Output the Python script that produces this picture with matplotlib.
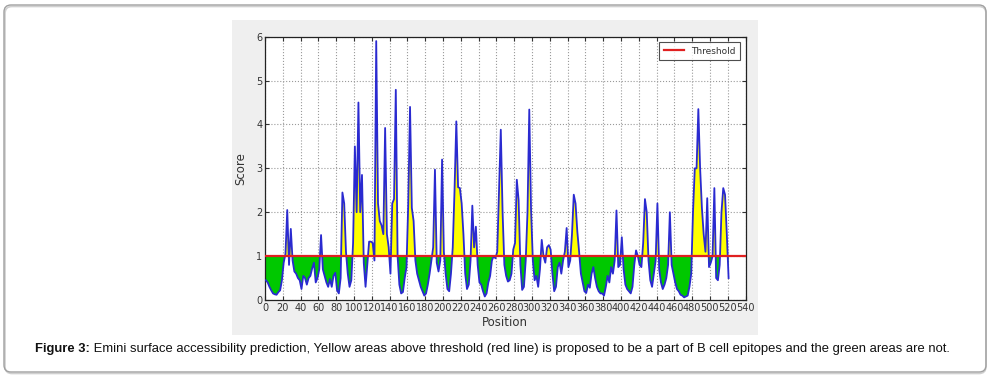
import numpy as np
import matplotlib
matplotlib.use("Agg")
import matplotlib.pyplot as plt
from matplotlib.patches import FancyBboxPatch, Rectangle
from matplotlib.transforms import IdentityTransform

# ---- data ----
positions = list(range(1, 522, 2))
scores = [
    0.45, 0.40, 0.30, 0.22, 0.15, 0.13, 0.12, 0.18, 0.22, 0.45,   # 1-19
    0.85, 1.05, 2.05, 0.80, 1.62, 0.90, 0.65, 0.60, 0.50, 0.45,   # 21-39
    0.25, 0.55, 0.50, 0.35, 0.50, 0.55, 0.72, 0.85, 0.40, 0.50,   # 41-59
    0.70, 1.48, 0.70, 0.55, 0.40, 0.30, 0.48, 0.30, 0.55, 0.62,   # 61-79
    0.22, 0.15, 0.50, 2.45, 2.20, 1.10, 0.60, 0.30, 0.45, 1.30,   # 81-99
    3.50, 2.00, 4.50, 2.00, 2.85, 0.85, 0.30, 0.80, 1.33, 1.33,   # 101-119
    1.30, 0.90, 5.90, 2.20, 1.80, 1.70, 1.50, 3.92, 1.50, 1.20,   # 121-139
    0.60, 2.20, 2.30, 4.79, 1.00, 0.35, 0.15, 0.18, 0.50, 0.75,   # 141-159
    2.20, 4.40, 2.10, 1.80, 0.90, 0.60, 0.45, 0.30, 0.20, 0.10,   # 161-179
    0.15, 0.35, 0.60, 0.90, 1.20, 2.97, 0.85, 0.65, 0.90, 3.20,   # 181-199
    1.10, 0.60, 0.25, 0.20, 0.60, 1.20, 2.50, 4.07, 2.57, 2.55,   # 201-219
    2.20, 1.50, 0.60, 0.25, 0.35, 0.90, 2.15, 1.20, 1.67, 0.80,   # 221-239
    0.40, 0.35, 0.20, 0.08, 0.15, 0.40, 0.55, 0.90, 1.00, 0.95,   # 241-259
    1.10, 2.50, 3.88, 2.00, 0.80, 0.55, 0.42, 0.45, 0.60, 1.15,   # 261-279
    1.30, 2.74, 2.28, 0.80, 0.23, 0.30, 0.90, 2.00, 4.34, 2.05,   # 281-299
    0.90, 0.45, 0.55, 0.30, 0.70, 1.37, 1.00, 0.85, 1.20, 1.25,   # 301-319
    1.15, 0.60, 0.20, 0.30, 0.75, 0.85, 0.60, 0.90, 1.10, 1.64,   # 321-339
    0.75, 0.90, 1.50, 2.40, 2.20, 1.56, 1.10, 0.60, 0.40, 0.20,   # 341-359
    0.16, 0.35, 0.28, 0.60, 0.75, 0.50, 0.30, 0.20, 0.15, 0.15,   # 361-379
    0.10, 0.30, 0.55, 0.40, 0.75, 0.60, 0.90, 2.04, 0.75, 0.80,   # 381-399
    1.43, 0.70, 0.35, 0.25, 0.20, 0.15, 0.30, 0.80, 1.13, 1.00,   # 401-419
    0.80, 0.75, 1.30, 2.30, 2.00, 0.90, 0.45, 0.30, 0.60, 0.90,   # 421-439
    2.20, 0.70, 0.40, 0.25, 0.35, 0.50, 0.80, 2.00, 0.80, 0.60,   # 441-459
    0.40, 0.25, 0.20, 0.12, 0.10, 0.06, 0.08, 0.10, 0.30, 0.60,   # 461-479
    2.00, 3.00, 3.00, 4.35, 3.00, 2.10, 1.50, 1.10, 2.32, 0.75,   # 481-499
    0.85, 1.00, 2.55, 0.50, 0.45, 0.80, 2.00, 2.55, 2.40, 1.50,   # 501-519
    0.50,                                                         # 521
]
threshold = 1.0
x_ticks = list(range(0, 541, 20))
y_ticks = list(range(0, 7))
caption_bold = "Figure 3:"
caption_rest = (" Emini surface accessibility prediction, Yellow areas above threshold (red line) "
                "is proposed to be a part of B cell epitopes and the green areas are not.")

x = np.array(positions, dtype=float)
y = np.array(scores, dtype=float)

fig = plt.figure(figsize=(9.91, 3.82), dpi=100)
fig.patch.set_facecolor("white")

# outer rounded border (pixel coordinates)
shadow = FancyBboxPatch((5, 8.5), 981, 367, boxstyle="round,pad=0,rounding_size=7",
                        transform=IdentityTransform(), facecolor="none",
                        edgecolor="#d0d0d0", linewidth=1.2, zorder=-20)
fig.patches.append(shadow)
border = FancyBboxPatch((4, 10), 982, 367, boxstyle="round,pad=0,rounding_size=7",
                        transform=IdentityTransform(), facecolor="none",
                        edgecolor="#a0a0a0", linewidth=1.0, zorder=-19)
fig.patches.append(border)

# grey image panel
panel = Rectangle((232 / 991, 1 - 335 / 382), (758 - 232) / 991, (335 - 20) / 382,
                  transform=fig.transFigure, facecolor="#efefef", edgecolor="none", zorder=-10)
fig.patches.append(panel)

ax = fig.add_axes([265 / 991, 1 - 300 / 382, (745.5 - 265) / 991, (300 - 36.7) / 382])
ax.set_zorder(5)
ax.set_facecolor("white")

ax.fill_between(x, y, threshold, where=y >= threshold, interpolate=True,
                facecolor="#ffff00", edgecolor="none", zorder=2)
ax.fill_between(x, y, threshold, where=y <= threshold, interpolate=True,
                facecolor="#00c800", edgecolor="none", zorder=2)
ax.plot(x, y, color="#2a2ad0", linewidth=1.3, zorder=3)
ax.axhline(threshold, color="#e02020", linewidth=1.6, zorder=4, label="Threshold")

ax.set_xlim(0, 540)
ax.set_ylim(0, 6)
ax.set_xticks(x_ticks)
ax.set_yticks(y_ticks)
ax.tick_params(direction="in", top=True, right=True, labelsize=7, length=3,
               colors="#333333", pad=2)
ax.grid(True, linestyle=":", color="#9a9a9a", linewidth=0.8)
ax.set_axisbelow(True)
for s in ax.spines.values():
    s.set_color("#222222")
    s.set_linewidth(0.9)

ax.set_xlabel("Position", fontsize=8.5, color="#333333", labelpad=2)
ax.set_ylabel("Score", fontsize=8.5, color="#333333", labelpad=6)

leg = ax.legend(loc="upper right", fontsize=6.5, frameon=True, fancybox=False,
                borderpad=0.5, handlelength=2.2, borderaxespad=0.6)
leg.get_frame().set_edgecolor("#222222")
leg.get_frame().set_linewidth(0.8)
for t in leg.get_texts():
    t.set_color("#333333")

cap_fam = ["Liberation Sans", "DejaVu Sans"]
t1 = fig.text(35 / 991, 1 - 349 / 382, caption_bold, fontsize=9.4, fontweight="bold",
              family=cap_fam, va="center", ha="left", color="#111111")
fig.canvas.draw()
bb = t1.get_window_extent()
fig.text(bb.x1 / 991, 1 - 349 / 382, caption_rest, fontsize=9.4,
         family=cap_fam, va="center", ha="left", color="#111111")

fig.savefig("out.png", dpi=100, facecolor="white")
